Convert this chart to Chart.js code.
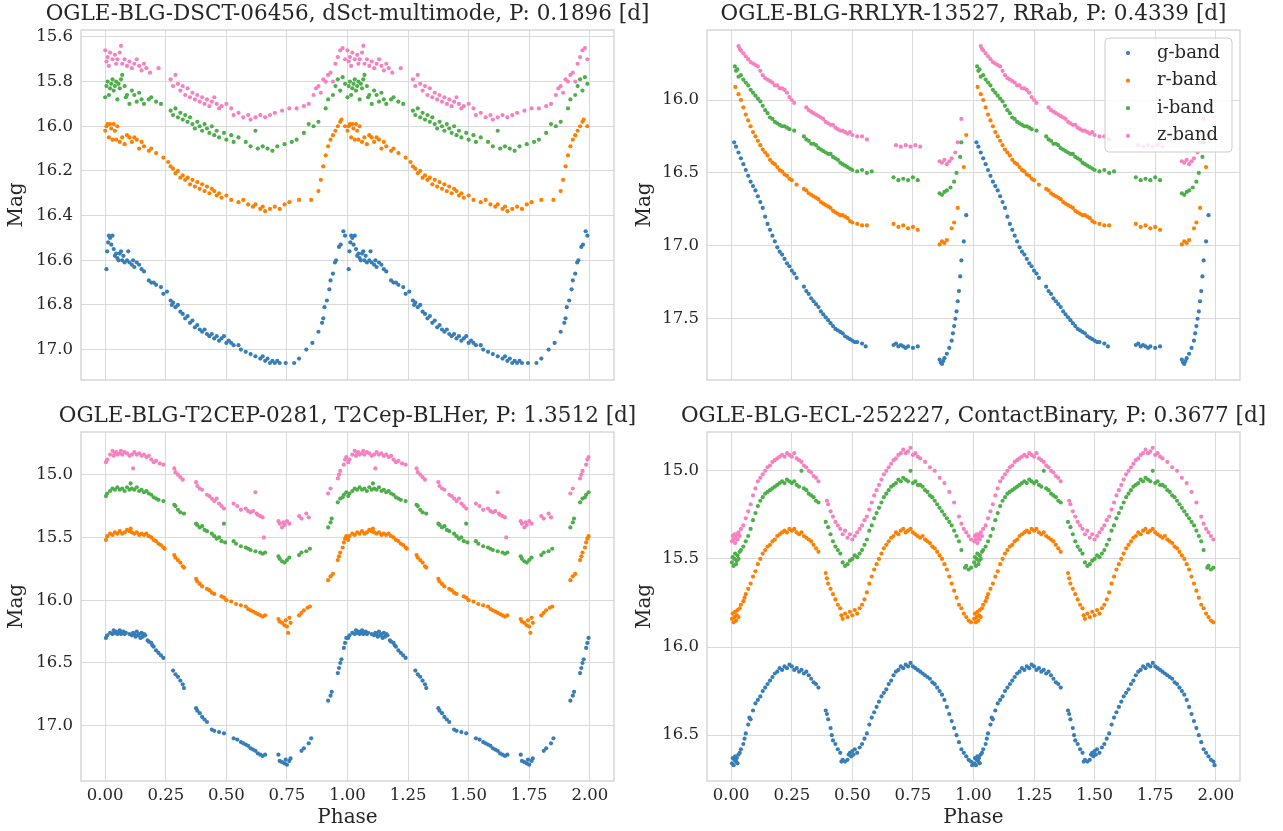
<!DOCTYPE html>
<html>
<head>
<meta charset="utf-8">
<script src="https://cdn.jsdelivr.net/npm/chart.js@4.4.1/dist/chart.umd.min.js"></script>
<style>
  html, body { margin: 0; padding: 0; background: #fff; }
  body { width: 1283px; height: 831px; position: relative; overflow: hidden; }
  canvas { position: absolute; }
</style>
</head>
<body>
<canvas id="c0" width="700" height="400" style="left:0;top:0"></canvas>
<canvas id="c1" width="655" height="400" style="left:628px;top:0"></canvas>
<canvas id="c2" width="700" height="431" style="left:0;top:400px"></canvas>
<canvas id="c3" width="655" height="431" style="left:628px;top:400px"></canvas>
<script>
const bandLabels = ['g-band', 'r-band', 'i-band', 'z-band'];
const bandColors = ['#377eb8', '#ff7f00', '#4daf4a', '#f781bf'];
const titles = [
    'OGLE-BLG-DSCT-06456, dSct-multimode, P: 0.1896 [d]',
    'OGLE-BLG-RRLYR-13527, RRab, P: 0.4339 [d]',
    'OGLE-BLG-T2CEP-0281, T2Cep-BLHer, P: 1.3512 [d]',
    'OGLE-BLG-ECL-252227, ContactBinary, P: 0.3677 [d]'
];
const phaseTicks = [0, 0.25, 0.5, 0.75, 1, 1.25, 1.5, 1.75, 2];
const dsctTicks = [15.6, 15.8, 16.0, 16.2, 16.4, 16.6, 16.8, 17.0];
const rrlTicks = [16.0, 16.5, 17.0, 17.5];
const t2cTicks = [15.0, 15.5, 16.0, 16.5, 17.0];
const eclTicks = [15.0, 15.5, 16.0, 16.5];

// [phase, mag] pairs over one cycle
const dsctG = [[0.005,16.64],[0.008,16.56],[0.012,16.52],[0.015,16.49],[0.02,16.50],[0.025,16.53],[0.03,16.49],[0.035,16.55],[0.04,16.58],[0.045,16.57],[0.05,16.59],[0.055,16.60],[0.06,16.57],[0.065,16.56],[0.07,16.60],[0.075,16.58],[0.08,16.61],[0.09,16.60],[0.095,16.56],[0.10,16.61],[0.11,16.62],[0.115,16.60],[0.12,16.63],[0.13,16.61],[0.14,16.62],[0.15,16.64],[0.16,16.65],[0.18,16.69],[0.19,16.70],[0.20,16.70],[0.21,16.71],[0.23,16.72],[0.24,16.75],[0.255,16.74],[0.27,16.78],[0.275,16.80],[0.28,16.79],[0.29,16.81],[0.30,16.80],[0.31,16.83],[0.32,16.84],[0.33,16.86],[0.34,16.85],[0.35,16.88],[0.36,16.87],[0.37,16.90],[0.38,16.89],[0.39,16.91],[0.40,16.92],[0.41,16.91],[0.42,16.93],[0.43,16.94],[0.44,16.93],[0.45,16.95],[0.46,16.94],[0.47,16.96],[0.48,16.95],[0.49,16.94],[0.50,16.97],[0.51,16.96],[0.52,16.97],[0.53,16.98],[0.55,16.98],[0.56,17.00],[0.58,17.01],[0.60,17.02],[0.62,17.03],[0.64,17.04],[0.65,17.03],[0.66,17.05],[0.67,17.04],[0.68,17.06],[0.69,17.05],[0.70,17.06],[0.71,17.05],[0.72,17.06],[0.745,17.06],[0.78,17.06],[0.80,17.04],[0.83,17.00],[0.855,16.97],[0.88,16.92],[0.895,16.88],[0.90,16.86],[0.905,16.81],[0.915,16.78],[0.925,16.73],[0.93,16.69],[0.94,16.66],[0.948,16.61],[0.953,16.60],[0.965,16.54],[0.972,16.53],[0.983,16.47],[0.99,16.49]];
const dsctR = [[0.0,16.02],[0.005,16.00],[0.01,15.99],[0.015,16.05],[0.02,15.99],[0.025,16.01],[0.03,16.06],[0.035,15.99],[0.04,16.02],[0.045,16.06],[0.05,16.00],[0.06,16.07],[0.07,16.05],[0.08,16.08],[0.09,16.04],[0.10,16.05],[0.11,16.07],[0.12,16.05],[0.13,16.06],[0.14,16.10],[0.15,16.07],[0.16,16.09],[0.18,16.11],[0.19,16.10],[0.21,16.12],[0.24,16.14],[0.26,16.16],[0.27,16.18],[0.28,16.19],[0.29,16.21],[0.30,16.20],[0.31,16.23],[0.32,16.22],[0.33,16.24],[0.34,16.23],[0.35,16.26],[0.36,16.24],[0.37,16.27],[0.38,16.25],[0.39,16.28],[0.40,16.26],[0.41,16.29],[0.42,16.27],[0.43,16.30],[0.44,16.28],[0.45,16.29],[0.46,16.31],[0.47,16.30],[0.48,16.32],[0.50,16.31],[0.52,16.33],[0.55,16.34],[0.57,16.33],[0.59,16.35],[0.61,16.36],[0.62,16.35],[0.64,16.37],[0.65,16.36],[0.66,16.38],[0.68,16.37],[0.70,16.36],[0.72,16.37],[0.74,16.35],[0.76,16.34],[0.80,16.33],[0.85,16.33],[0.88,16.29],[0.89,16.24],[0.90,16.18],[0.91,16.13],[0.92,16.09],[0.93,16.06],[0.94,16.04],[0.95,16.02],[0.96,16.00],[0.97,15.98],[0.975,15.97],[0.99,16.00]];
const dsctI = [[0.0,15.87],[0.005,15.82],[0.01,15.80],[0.015,15.86],[0.02,15.83],[0.025,15.81],[0.03,15.79],[0.035,15.84],[0.04,15.82],[0.045,15.80],[0.05,15.88],[0.055,15.81],[0.06,15.83],[0.065,15.79],[0.07,15.77],[0.08,15.82],[0.085,15.87],[0.09,15.86],[0.10,15.90],[0.11,15.84],[0.12,15.86],[0.13,15.89],[0.14,15.85],[0.15,15.88],[0.16,15.90],[0.18,15.88],[0.19,15.87],[0.21,15.89],[0.23,15.90],[0.27,15.93],[0.28,15.95],[0.29,15.92],[0.30,15.96],[0.31,15.94],[0.32,15.97],[0.33,15.95],[0.34,15.98],[0.35,15.96],[0.36,15.99],[0.37,16.01],[0.38,15.98],[0.39,16.00],[0.40,16.02],[0.41,15.99],[0.42,16.01],[0.43,16.03],[0.44,16.00],[0.45,16.04],[0.46,16.02],[0.47,16.05],[0.49,16.03],[0.50,16.06],[0.52,16.04],[0.53,16.07],[0.55,16.05],[0.58,16.07],[0.60,16.09],[0.62,16.02],[0.63,16.10],[0.65,16.09],[0.67,16.10],[0.69,16.11],[0.71,16.09],[0.74,16.08],[0.77,16.07],[0.79,16.06],[0.82,16.03],[0.84,15.99],[0.86,16.00],[0.88,15.98],[0.91,15.92],[0.92,15.88],[0.94,15.86],[0.95,15.82],[0.96,15.79],[0.97,15.84],[0.98,15.78],[0.99,15.81]];
const dsctZ = [[0.0,15.66],[0.005,15.71],[0.01,15.69],[0.015,15.73],[0.02,15.67],[0.03,15.70],[0.04,15.68],[0.045,15.72],[0.05,15.70],[0.06,15.67],[0.065,15.64],[0.07,15.72],[0.08,15.70],[0.09,15.73],[0.10,15.71],[0.11,15.74],[0.12,15.72],[0.13,15.70],[0.14,15.73],[0.15,15.75],[0.16,15.72],[0.17,15.74],[0.185,15.76],[0.22,15.74],[0.27,15.79],[0.28,15.82],[0.29,15.77],[0.30,15.81],[0.31,15.84],[0.32,15.82],[0.33,15.86],[0.34,15.83],[0.35,15.87],[0.36,15.85],[0.37,15.88],[0.38,15.86],[0.39,15.89],[0.40,15.87],[0.41,15.90],[0.42,15.88],[0.43,15.91],[0.44,15.89],[0.45,15.87],[0.46,15.90],[0.47,15.92],[0.48,15.91],[0.50,15.90],[0.52,15.92],[0.53,15.95],[0.55,15.94],[0.57,15.96],[0.59,15.95],[0.60,15.97],[0.62,15.96],[0.64,15.95],[0.66,15.96],[0.68,15.95],[0.70,15.94],[0.73,15.93],[0.76,15.92],[0.79,15.92],[0.82,15.91],[0.84,15.90],[0.86,15.86],[0.87,15.83],[0.88,15.82],[0.89,15.85],[0.90,15.79],[0.91,15.80],[0.92,15.77],[0.93,15.76],[0.94,15.80],[0.95,15.72],[0.96,15.69],[0.97,15.66],[0.98,15.65],[0.99,15.70]];

const rrlG = [[0.012,16.29],[0.02,16.32],[0.03,16.36],[0.04,16.40],[0.05,16.44],[0.06,16.48],[0.07,16.52],[0.08,16.56],[0.09,16.59],[0.10,16.62],[0.11,16.66],[0.12,16.70],[0.13,16.74],[0.14,16.80],[0.15,16.85],[0.16,16.89],[0.17,16.93],[0.18,16.97],[0.19,17.01],[0.20,17.04],[0.21,17.06],[0.22,17.09],[0.23,17.12],[0.24,17.14],[0.25,17.17],[0.26,17.19],[0.27,17.22],[0.30,17.28],[0.31,17.31],[0.32,17.33],[0.33,17.36],[0.34,17.38],[0.35,17.40],[0.36,17.42],[0.37,17.45],[0.38,17.47],[0.39,17.49],[0.40,17.51],[0.41,17.53],[0.42,17.55],[0.43,17.57],[0.44,17.58],[0.45,17.59],[0.46,17.60],[0.47,17.62],[0.48,17.63],[0.49,17.64],[0.50,17.65],[0.51,17.66],[0.52,17.66],[0.54,17.67],[0.555,17.69],[0.67,17.68],[0.68,17.67],[0.69,17.69],[0.70,17.68],[0.71,17.69],[0.72,17.70],[0.73,17.69],[0.75,17.70],[0.77,17.69],[0.86,17.78],[0.865,17.80],[0.87,17.81],[0.875,17.79],[0.88,17.77],[0.89,17.74],[0.90,17.70],[0.91,17.65],[0.915,17.60],[0.92,17.55],[0.925,17.50],[0.93,17.45],[0.935,17.38],[0.94,17.31],[0.945,17.21],[0.95,17.10],[0.96,16.97],[0.97,16.79]];
const rrlR = [[0.017,15.91],[0.03,15.96],[0.04,16.00],[0.05,16.05],[0.06,16.10],[0.07,16.14],[0.08,16.18],[0.09,16.22],[0.10,16.25],[0.11,16.28],[0.12,16.31],[0.13,16.34],[0.14,16.36],[0.15,16.38],[0.16,16.41],[0.17,16.43],[0.18,16.44],[0.19,16.46],[0.20,16.48],[0.21,16.49],[0.22,16.51],[0.23,16.52],[0.24,16.54],[0.25,16.55],[0.27,16.58],[0.30,16.61],[0.31,16.62],[0.32,16.64],[0.33,16.65],[0.34,16.66],[0.35,16.67],[0.36,16.68],[0.37,16.70],[0.38,16.71],[0.39,16.72],[0.40,16.73],[0.41,16.74],[0.42,16.76],[0.43,16.77],[0.44,16.78],[0.45,16.79],[0.46,16.79],[0.47,16.80],[0.48,16.81],[0.49,16.83],[0.50,16.84],[0.52,16.85],[0.54,16.86],[0.56,16.86],[0.67,16.85],[0.69,16.87],[0.71,16.86],[0.73,16.88],[0.75,16.87],[0.77,16.89],[0.86,16.99],[0.87,16.97],[0.88,16.98],[0.89,16.96],[0.91,16.88],[0.92,16.84],[0.935,16.74],[0.96,16.46],[0.97,16.24]];
const rrlI = [[0.015,15.77],[0.02,15.80],[0.025,15.79],[0.03,15.84],[0.04,15.83],[0.05,15.86],[0.06,15.88],[0.07,15.90],[0.08,15.93],[0.09,15.95],[0.10,15.97],[0.11,15.99],[0.12,16.01],[0.13,16.04],[0.14,16.07],[0.15,16.09],[0.16,16.12],[0.17,16.13],[0.18,16.15],[0.19,16.16],[0.20,16.17],[0.21,16.18],[0.22,16.18],[0.23,16.19],[0.24,16.20],[0.26,16.21],[0.30,16.25],[0.31,16.27],[0.32,16.28],[0.33,16.30],[0.34,16.30],[0.35,16.31],[0.36,16.33],[0.37,16.34],[0.38,16.35],[0.39,16.36],[0.40,16.37],[0.41,16.37],[0.42,16.39],[0.43,16.40],[0.44,16.41],[0.45,16.43],[0.46,16.44],[0.47,16.45],[0.48,16.46],[0.49,16.47],[0.50,16.48],[0.52,16.49],[0.54,16.48],[0.56,16.50],[0.58,16.49],[0.67,16.53],[0.69,16.55],[0.71,16.54],[0.73,16.55],[0.75,16.53],[0.77,16.55],[0.86,16.64],[0.87,16.65],[0.88,16.63],[0.89,16.62],[0.905,16.60],[0.92,16.56],[0.93,16.50],[0.945,16.39],[0.95,16.29]];
const rrlZ = [[0.03,15.63],[0.035,15.65],[0.04,15.66],[0.05,15.68],[0.06,15.70],[0.07,15.72],[0.08,15.74],[0.09,15.75],[0.10,15.76],[0.11,15.77],[0.12,15.80],[0.13,15.83],[0.14,15.85],[0.15,15.86],[0.16,15.87],[0.17,15.88],[0.18,15.90],[0.19,15.90],[0.20,15.92],[0.21,15.92],[0.22,15.93],[0.23,15.95],[0.24,15.98],[0.25,16.00],[0.26,16.02],[0.31,16.05],[0.32,16.07],[0.33,16.08],[0.34,16.09],[0.35,16.10],[0.36,16.11],[0.37,16.12],[0.38,16.13],[0.39,16.15],[0.40,16.16],[0.41,16.17],[0.42,16.17],[0.43,16.19],[0.44,16.20],[0.45,16.21],[0.46,16.21],[0.47,16.22],[0.48,16.23],[0.49,16.22],[0.50,16.24],[0.52,16.25],[0.54,16.25],[0.56,16.27],[0.68,16.31],[0.70,16.32],[0.72,16.31],[0.74,16.32],[0.76,16.31],[0.78,16.32],[0.86,16.42],[0.87,16.43],[0.88,16.41],[0.89,16.44],[0.90,16.42],[0.91,16.40],[0.925,16.36],[0.935,16.29],[0.95,16.13]];

const t2cG = [[0.003,16.30],[0.008,16.28],[0.02,16.26],[0.03,16.27],[0.035,16.24],[0.04,16.26],[0.045,16.25],[0.05,16.27],[0.055,16.26],[0.06,16.24],[0.065,16.27],[0.07,16.26],[0.075,16.25],[0.08,16.27],[0.085,16.26],[0.10,16.27],[0.11,16.28],[0.115,16.26],[0.12,16.27],[0.125,16.29],[0.13,16.25],[0.135,16.28],[0.14,16.27],[0.145,16.30],[0.15,16.26],[0.155,16.29],[0.16,16.27],[0.165,16.28],[0.175,16.32],[0.18,16.33],[0.19,16.34],[0.195,16.36],[0.20,16.37],[0.21,16.40],[0.22,16.42],[0.23,16.44],[0.24,16.46],[0.28,16.56],[0.29,16.59],[0.30,16.61],[0.31,16.64],[0.32,16.67],[0.325,16.70],[0.375,16.86],[0.38,16.88],[0.39,16.90],[0.40,16.93],[0.41,16.95],[0.42,16.97],[0.44,17.03],[0.45,17.04],[0.47,17.05],[0.49,17.06],[0.53,17.10],[0.545,17.11],[0.56,17.13],[0.57,17.14],[0.58,17.15],[0.59,17.16],[0.60,17.18],[0.61,17.19],[0.62,17.20],[0.63,17.22],[0.64,17.23],[0.65,17.24],[0.66,17.23],[0.715,17.23],[0.72,17.28],[0.73,17.29],[0.74,17.30],[0.745,17.27],[0.75,17.31],[0.76,17.28],[0.765,17.26],[0.81,17.20],[0.82,17.18],[0.84,17.14],[0.85,17.10],[0.92,16.80],[0.93,16.76],[0.935,16.73],[0.96,16.58],[0.965,16.54],[0.97,16.50],[0.975,16.47],[0.985,16.38],[0.99,16.34],[0.995,16.30]];
const t2cR = [[0.003,15.52],[0.008,15.49],[0.02,15.47],[0.03,15.48],[0.04,15.46],[0.05,15.47],[0.06,15.45],[0.07,15.47],[0.08,15.46],[0.09,15.44],[0.10,15.45],[0.105,15.43],[0.11,15.46],[0.12,15.47],[0.13,15.46],[0.14,15.48],[0.15,15.47],[0.16,15.48],[0.17,15.47],[0.18,15.49],[0.19,15.50],[0.20,15.52],[0.21,15.53],[0.22,15.55],[0.23,15.56],[0.24,15.58],[0.245,15.59],[0.285,15.64],[0.29,15.66],[0.30,15.68],[0.31,15.70],[0.32,15.73],[0.325,15.74],[0.375,15.83],[0.38,15.85],[0.39,15.87],[0.40,15.89],[0.42,15.91],[0.43,15.92],[0.44,15.94],[0.45,15.95],[0.48,15.97],[0.49,15.98],[0.50,16.00],[0.52,16.01],[0.54,16.03],[0.56,16.04],[0.58,16.05],[0.59,16.07],[0.60,16.08],[0.61,16.09],[0.62,16.10],[0.63,16.11],[0.64,16.12],[0.65,16.13],[0.66,16.12],[0.715,16.15],[0.72,16.17],[0.73,16.18],[0.74,16.20],[0.745,16.16],[0.75,16.21],[0.755,16.26],[0.76,16.14],[0.765,16.18],[0.80,16.12],[0.81,16.10],[0.82,16.08],[0.835,16.06],[0.845,16.05],[0.92,15.84],[0.93,15.81],[0.94,15.79],[0.96,15.68],[0.965,15.65],[0.97,15.62],[0.98,15.58],[0.985,15.54],[0.99,15.51],[0.995,15.49]];
const t2cI = [[0.003,15.17],[0.008,15.15],[0.02,15.13],[0.03,15.11],[0.04,15.12],[0.05,15.10],[0.06,15.12],[0.07,15.11],[0.08,15.13],[0.09,15.10],[0.10,15.12],[0.105,15.07],[0.11,15.11],[0.12,15.12],[0.13,15.10],[0.14,15.13],[0.15,15.12],[0.16,15.14],[0.17,15.13],[0.18,15.15],[0.19,15.16],[0.20,15.18],[0.21,15.19],[0.22,15.20],[0.24,15.21],[0.285,15.24],[0.29,15.25],[0.30,15.28],[0.31,15.30],[0.325,15.31],[0.375,15.39],[0.38,15.40],[0.39,15.42],[0.40,15.41],[0.41,15.44],[0.42,15.45],[0.44,15.47],[0.45,15.49],[0.46,15.51],[0.47,15.50],[0.48,15.53],[0.49,15.39],[0.495,15.54],[0.53,15.53],[0.54,15.55],[0.56,15.57],[0.58,15.58],[0.59,15.59],[0.60,15.60],[0.62,15.61],[0.64,15.62],[0.65,15.63],[0.66,15.62],[0.715,15.65],[0.72,15.67],[0.73,15.69],[0.74,15.70],[0.75,15.68],[0.76,15.66],[0.80,15.64],[0.81,15.62],[0.83,15.61],[0.845,15.59],[0.92,15.42],[0.93,15.38],[0.935,15.35],[0.96,15.22],[0.97,15.19],[0.98,15.18],[0.985,15.16],[0.995,15.14]];
const t2cZ = [[0.003,14.90],[0.008,14.88],[0.02,14.84],[0.03,14.81],[0.035,14.85],[0.04,14.83],[0.045,14.82],[0.05,14.84],[0.06,14.83],[0.065,14.81],[0.07,14.84],[0.08,14.82],[0.09,14.83],[0.10,14.85],[0.11,14.84],[0.115,14.95],[0.12,14.82],[0.13,14.84],[0.14,14.83],[0.15,14.85],[0.16,14.84],[0.17,14.86],[0.18,14.85],[0.19,14.88],[0.20,14.90],[0.21,14.89],[0.225,14.91],[0.24,14.92],[0.285,14.95],[0.29,14.98],[0.30,15.00],[0.31,15.02],[0.32,15.04],[0.375,15.06],[0.38,15.09],[0.39,15.11],[0.40,15.12],[0.42,15.16],[0.43,15.17],[0.44,15.19],[0.45,15.21],[0.46,15.19],[0.47,15.23],[0.48,15.25],[0.49,15.27],[0.53,15.23],[0.545,15.25],[0.56,15.28],[0.58,15.27],[0.59,15.29],[0.60,15.30],[0.61,15.29],[0.62,15.14],[0.625,15.31],[0.63,15.32],[0.64,15.33],[0.65,15.34],[0.655,15.50],[0.715,15.37],[0.72,15.39],[0.73,15.42],[0.735,15.38],[0.74,15.40],[0.75,15.37],[0.76,15.39],[0.80,15.33],[0.81,15.35],[0.83,15.31],[0.84,15.34],[0.92,15.15],[0.93,15.11],[0.96,15.03],[0.965,15.00],[0.97,14.97],[0.985,14.92],[0.99,14.88],[0.995,14.86]];

const eclG = [[0.003,16.66],[0.006,16.63],[0.01,16.67],[0.013,16.64],[0.016,16.62],[0.02,16.65],[0.023,16.63],[0.026,16.66],[0.03,16.61],[0.035,16.60],[0.04,16.58],[0.05,16.55],[0.055,16.52],[0.06,16.49],[0.07,16.44],[0.075,16.40],[0.08,16.41],[0.09,16.36],[0.10,16.32],[0.11,16.30],[0.12,16.28],[0.13,16.25],[0.14,16.23],[0.15,16.21],[0.16,16.19],[0.17,16.17],[0.18,16.15],[0.19,16.14],[0.20,16.12],[0.21,16.13],[0.22,16.11],[0.23,16.12],[0.24,16.10],[0.25,16.11],[0.26,16.13],[0.27,16.12],[0.28,16.14],[0.29,16.13],[0.30,16.15],[0.31,16.14],[0.32,16.16],[0.33,16.18],[0.34,16.20],[0.35,16.21],[0.36,16.23],[0.39,16.36],[0.395,16.38],[0.40,16.41],[0.41,16.46],[0.415,16.50],[0.42,16.53],[0.43,16.55],[0.44,16.58],[0.45,16.60],[0.455,16.65],[0.46,16.64],[0.47,16.65],[0.48,16.64],[0.485,16.61],[0.49,16.60],[0.495,16.62],[0.50,16.59],[0.505,16.61],[0.51,16.58],[0.52,16.60],[0.53,16.57],[0.54,16.55],[0.55,16.52],[0.56,16.49],[0.57,16.44],[0.58,16.40],[0.59,16.37],[0.60,16.34],[0.61,16.31],[0.62,16.28],[0.63,16.26],[0.64,16.24],[0.65,16.21],[0.66,16.19],[0.67,16.16],[0.68,16.14],[0.69,16.13],[0.70,16.11],[0.71,16.12],[0.72,16.10],[0.73,16.11],[0.74,16.09],[0.75,16.11],[0.76,16.12],[0.77,16.13],[0.78,16.14],[0.79,16.15],[0.80,16.16],[0.81,16.17],[0.82,16.18],[0.83,16.20],[0.84,16.21],[0.85,16.23],[0.86,16.25],[0.87,16.27],[0.88,16.30],[0.89,16.34],[0.90,16.38],[0.91,16.42],[0.92,16.46],[0.93,16.50],[0.94,16.54],[0.95,16.58],[0.96,16.60],[0.97,16.62],[0.98,16.64],[0.99,16.65],[0.995,16.67]];
const eclR = [[0.003,15.84],[0.006,15.81],[0.01,15.86],[0.013,15.83],[0.016,15.80],[0.02,15.85],[0.023,15.82],[0.026,15.79],[0.03,15.83],[0.035,15.78],[0.04,15.76],[0.05,15.74],[0.055,15.72],[0.06,15.70],[0.07,15.67],[0.08,15.64],[0.09,15.60],[0.10,15.57],[0.11,15.53],[0.12,15.50],[0.13,15.47],[0.14,15.45],[0.15,15.43],[0.16,15.42],[0.17,15.40],[0.18,15.39],[0.19,15.37],[0.20,15.36],[0.21,15.35],[0.22,15.34],[0.23,15.35],[0.24,15.33],[0.25,15.34],[0.26,15.33],[0.27,15.35],[0.28,15.36],[0.29,15.35],[0.30,15.37],[0.31,15.38],[0.32,15.39],[0.33,15.40],[0.34,15.42],[0.35,15.44],[0.36,15.46],[0.39,15.58],[0.395,15.61],[0.40,15.64],[0.41,15.67],[0.42,15.70],[0.43,15.73],[0.44,15.76],[0.45,15.78],[0.455,15.82],[0.46,15.84],[0.47,15.81],[0.48,15.83],[0.49,15.80],[0.50,15.82],[0.51,15.79],[0.52,15.81],[0.53,15.78],[0.54,15.76],[0.55,15.73],[0.56,15.69],[0.57,15.64],[0.58,15.60],[0.59,15.56],[0.60,15.53],[0.61,15.50],[0.62,15.47],[0.63,15.44],[0.64,15.42],[0.65,15.40],[0.66,15.38],[0.67,15.37],[0.68,15.35],[0.69,15.36],[0.70,15.34],[0.71,15.33],[0.72,15.35],[0.73,15.34],[0.74,15.33],[0.75,15.35],[0.76,15.36],[0.77,15.37],[0.78,15.38],[0.79,15.37],[0.80,15.39],[0.81,15.40],[0.82,15.41],[0.83,15.43],[0.84,15.44],[0.85,15.46],[0.86,15.48],[0.87,15.50],[0.88,15.53],[0.89,15.56],[0.90,15.60],[0.91,15.64],[0.92,15.68],[0.93,15.72],[0.94,15.76],[0.95,15.78],[0.96,15.81],[0.97,15.83],[0.98,15.85],[0.99,15.86]];
const eclI = [[0.003,15.52],[0.006,15.49],[0.01,15.54],[0.013,15.50],[0.016,15.47],[0.02,15.53],[0.023,15.51],[0.026,15.48],[0.03,15.50],[0.035,15.46],[0.04,15.45],[0.05,15.43],[0.06,15.40],[0.07,15.37],[0.08,15.33],[0.09,15.28],[0.10,15.24],[0.11,15.20],[0.12,15.17],[0.13,15.15],[0.14,15.13],[0.15,15.12],[0.16,15.11],[0.17,15.10],[0.18,15.09],[0.19,15.08],[0.20,15.07],[0.21,15.06],[0.22,15.07],[0.23,15.05],[0.24,15.06],[0.25,15.07],[0.26,15.06],[0.27,15.08],[0.28,15.09],[0.29,15.00],[0.30,15.10],[0.31,15.11],[0.32,15.13],[0.33,15.14],[0.34,15.15],[0.35,15.17],[0.36,15.18],[0.39,15.29],[0.40,15.32],[0.41,15.36],[0.42,15.40],[0.43,15.43],[0.44,15.45],[0.45,15.47],[0.46,15.52],[0.47,15.54],[0.48,15.53],[0.49,15.51],[0.50,15.50],[0.51,15.48],[0.52,15.49],[0.53,15.47],[0.54,15.45],[0.55,15.42],[0.56,15.39],[0.57,15.34],[0.58,15.31],[0.59,15.27],[0.60,15.24],[0.61,15.21],[0.62,15.18],[0.63,15.15],[0.64,15.13],[0.65,15.11],[0.66,15.09],[0.67,15.08],[0.68,15.07],[0.69,15.05],[0.70,15.06],[0.71,15.04],[0.72,15.05],[0.73,15.06],[0.74,15.00],[0.75,15.07],[0.76,15.06],[0.77,15.08],[0.78,15.08],[0.79,15.09],[0.80,15.11],[0.81,15.12],[0.82,15.14],[0.83,15.15],[0.84,15.17],[0.85,15.19],[0.86,15.21],[0.87,15.23],[0.88,15.25],[0.89,15.27],[0.90,15.29],[0.91,15.31],[0.92,15.34],[0.93,15.37],[0.94,15.40],[0.95,15.45],[0.965,15.55],[0.97,15.54],[0.98,15.56],[0.99,15.55]];
const eclZ = [[0.003,15.40],[0.006,15.37],[0.01,15.39],[0.013,15.36],[0.016,15.41],[0.02,15.38],[0.023,15.36],[0.026,15.39],[0.03,15.35],[0.035,15.37],[0.04,15.33],[0.05,15.31],[0.06,15.27],[0.07,15.23],[0.08,15.19],[0.09,15.14],[0.10,15.10],[0.11,15.06],[0.12,15.04],[0.13,15.02],[0.14,15.00],[0.15,14.98],[0.16,14.97],[0.17,14.95],[0.18,14.94],[0.19,14.93],[0.20,14.92],[0.21,14.91],[0.22,14.92],[0.23,14.90],[0.24,14.91],[0.25,14.92],[0.26,14.90],[0.27,14.93],[0.28,14.94],[0.29,14.95],[0.30,14.97],[0.31,14.98],[0.32,15.00],[0.33,15.01],[0.34,15.03],[0.35,15.04],[0.36,15.06],[0.395,15.17],[0.40,15.19],[0.41,15.23],[0.42,15.26],[0.43,15.29],[0.44,15.31],[0.45,15.33],[0.46,15.36],[0.47,15.34],[0.48,15.38],[0.49,15.36],[0.50,15.39],[0.51,15.37],[0.52,15.35],[0.53,15.33],[0.54,15.31],[0.55,15.28],[0.56,15.26],[0.57,15.22],[0.58,15.18],[0.59,15.14],[0.60,15.11],[0.61,15.08],[0.62,15.05],[0.63,15.02],[0.64,15.00],[0.65,14.98],[0.66,14.96],[0.67,14.94],[0.68,14.93],[0.69,14.91],[0.70,14.90],[0.71,14.88],[0.72,14.90],[0.73,14.89],[0.74,14.87],[0.75,14.91],[0.76,14.90],[0.77,14.92],[0.78,14.93],[0.80,14.95],[0.82,14.98],[0.84,15.00],[0.86,15.04],[0.88,15.07],[0.90,15.12],[0.92,15.18],[0.94,15.26],[0.95,15.30],[0.96,15.33],[0.97,15.35],[0.98,15.37],[0.99,15.39]];

const textColor = '#262626';
const gridColor = '#dadada';
const serif = '"DejaVu Serif", serif';

// the light curve is plotted over two cycles, phase and phase + 1
function twoCycles(points) {
    const first = points.map(([p, m]) => ({ x: p, y: m }));
    const second = points.map(([p, m]) => ({ x: p + 1, y: m }));
    return first.concat(second);
}

// spines on all four sides
const frame = {
    id: 'frame',
    afterDatasetsDraw(chart) {
        const { ctx, chartArea: a } = chart;
        ctx.save();
        ctx.strokeStyle = '#cfcfcf';
        ctx.lineWidth = 1.25;
        ctx.strokeRect(a.left, a.top, a.right - a.left, a.bottom - a.top);
        ctx.restore();
    }
};

// axes title, centred over the plot area and allowed to run past it (like matplotlib)
const axesTitle = {
    id: 'axesTitle',
    afterDraw(chart) {
        const { ctx, chartArea: a } = chart;
        const text = chart.config.options.axesTitleText;
        ctx.save();
        ctx.font = '21.5px ' + serif;
        ctx.fillStyle = textColor;
        ctx.textAlign = 'center';
        ctx.textBaseline = 'middle';
        ctx.fillText(text, (a.left + a.right) / 2, a.top - 16);
        ctx.restore();
    }
};

// legend box inside the axes, top right
const legendBox = {
    id: 'legendBox',
    afterDraw(chart) {
        const { ctx, chartArea: a } = chart;
        const w = 127, h = 114;
        const x = a.right - 8 - w, y = a.top + 8;
        ctx.save();
        ctx.beginPath();
        ctx.roundRect(x, y, w, h, 4);
        ctx.fillStyle = 'rgba(255,255,255,0.8)';
        ctx.fill();
        ctx.strokeStyle = '#cccccc';
        ctx.lineWidth = 1;
        ctx.stroke();
        ctx.font = '18px ' + serif;
        ctx.textBaseline = 'middle';
        chart.data.datasets.forEach((ds, i) => {
            const cy = y + 15 + i * 27.6;
            ctx.beginPath();
            ctx.arc(x + 23, cy, 2.1, 0, Math.PI * 2);
            ctx.fillStyle = ds.backgroundColor;
            ctx.fill();
            ctx.fillStyle = textColor;
            ctx.fillText(ds.label, x + 52, cy);
        });
        ctx.restore();
    }
};

const panels = [
    { id: 'c0', title: titles[0], bands: [dsctG, dsctR, dsctI, dsctZ], yTicks: dsctTicks, yMin: 15.569, yMax: 17.136, left: true, bottom: false, legend: false },
    { id: 'c1', title: titles[1], bands: [rrlG, rrlR, rrlI, rrlZ], yTicks: rrlTicks, yMin: 15.52, yMax: 17.92, left: false, bottom: false, legend: true },
    { id: 'c2', title: titles[2], bands: [t2cG, t2cR, t2cI, t2cZ], yTicks: t2cTicks, yMin: 14.66, yMax: 17.44, left: true, bottom: true, legend: false },
    { id: 'c3', title: titles[3], bands: [eclG, eclR, eclI, eclZ], yTicks: eclTicks, yMin: 14.78, yMax: 16.76, left: false, bottom: true, legend: false }
];

panels.forEach(p => {
    const datasets = p.bands.map((pts, i) => ({
        label: bandLabels[i],
        data: twoCycles(pts),
        backgroundColor: bandColors[i],
        borderWidth: 0,
        pointRadius: 2.1
    }));

    new Chart(document.getElementById(p.id), {
        type: 'scatter',
        data: { datasets },
        options: {
            responsive: false,
            animation: false,
            events: [],
            axesTitleText: p.title,
            layout: { padding: { left: 0, top: p.bottom ? 32 : 30, bottom: 0, right: p.left ? 86 : 43 } },
            scales: {
                x: {
                    type: 'linear',
                    min: -0.1,
                    max: 2.1,
                    afterBuildTicks: s => { s.ticks = phaseTicks.map(v => ({ value: v })); },
                    afterFit: s => { s.height = p.bottom ? 50 : 20; },
                    grid: { color: gridColor, lineWidth: 1, drawTicks: false },
                    border: { display: false },
                    ticks: {
                        display: p.bottom,
                        padding: 5,
                        color: textColor,
                        font: { family: serif, size: 16.5 },
                        callback: v => v.toFixed(2)
                    },
                    title: {
                        display: p.bottom,
                        text: 'Phase',
                        color: textColor,
                        font: { family: serif, size: 20 },
                        padding: { top: 0, bottom: 1 }
                    }
                },
                y: {
                    type: 'linear',
                    reverse: true,
                    min: p.yMin,
                    max: p.yMax,
                    afterBuildTicks: s => { s.ticks = p.yTicks.map(v => ({ value: v })); },
                    afterFit: s => { s.width = p.left ? 81 : 79; },
                    grid: { color: gridColor, lineWidth: 1, drawTicks: false },
                    border: { display: false },
                    ticks: {
                        padding: 8,
                        color: textColor,
                        font: { family: serif, size: 16.5 },
                        callback: v => v.toFixed(1)
                    },
                    title: {
                        display: true,
                        text: 'Mag',
                        color: textColor,
                        font: { family: serif, size: 20 },
                        padding: { top: 5, bottom: 0 }
                    }
                }
            },
            plugins: {
                legend: { display: false },
                tooltip: { enabled: false },
                title: { display: false }
            }
        },
        plugins: p.legend ? [frame, axesTitle, legendBox] : [frame, axesTitle]
    });
});
</script>
</body>
</html>
